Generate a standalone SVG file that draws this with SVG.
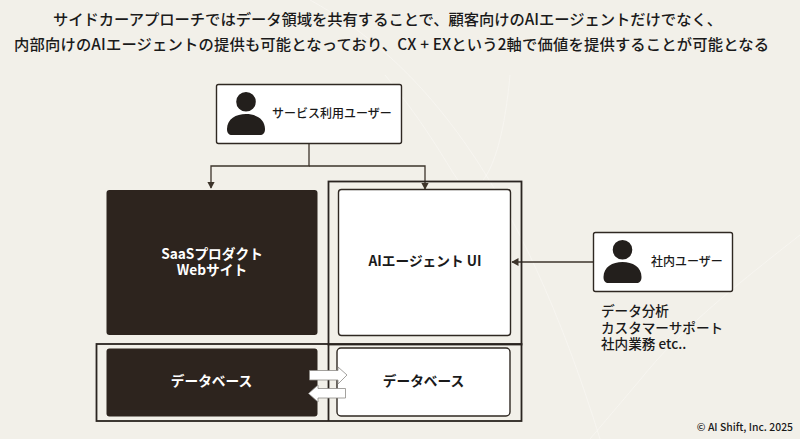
<svg xmlns="http://www.w3.org/2000/svg" width="800" height="439" viewBox="0 0 800 439">
<style>
text{font-family:"Noto Sans CJK JP","Noto Sans",sans-serif;fill:#1a1a1a;font-weight:500}
.t{font-size:15.300px}
.c{text-anchor:middle;font-size:13.700px;font-weight:700}
.s{font-size:12px;text-anchor:middle}
.w{fill:#fff}
.card{fill:#fff;stroke:#2f2822;stroke-width:1.400}
.dark{fill:#2d241e}
.frame{fill:none;stroke:#2a2420;stroke-width:1.800}
.conn{fill:none;stroke:#3d342b;stroke-width:1.300}
.fat{fill:#fff;stroke:#8d8a86;stroke-width:.8}
.bgl{fill:none;stroke:#faf9f5;stroke-width:1}
</style>
<defs>
<marker id="a" markerWidth="6" markerHeight="6" refX="5" refY="3" orient="auto"><path d="M0 0L5.500 3L0 6z" fill="#3d342b"/></marker>
<path id="p" d="M0-16a9.800 9.800 0 1 1 0 19.600a9.800 9.800 0 1 1 0-19.600zM-19 21C-19 11-10 6 0 6S19 11 19 21C19 25 17 27 14 27H-14C-17 27-19 25-19 21z" fill="#231f1c"/>
</defs>
<rect width="800" height="439" fill="#f2f0e9"/>
<path class="bgl" d="M385 75C430 130 450 170 458 180M510 75C505 130 495 165 483 180M800 235C730 290 680 330 640 380L590 439M310 0C420 60 520 180 600 439" opacity=".6"/>
<text class="t" x="53" y="24.500" textLength="669" lengthAdjust="spacing">サイドカーアプローチではデータ領域を共有することで、顧客向けのAIエージェントだけでなく、</text>
<text class="t" x="14" y="50" textLength="755" lengthAdjust="spacing">内部向けのAIエージェントの提供も可能となっており、CX + EXという2軸で価値を提供することが可能となる</text>
<g id="connectors">
<path class="conn" d="M309 144V166H211V188" marker-end="url(#a)"/>
<path class="conn" d="M309 166H425V189" marker-end="url(#a)"/>
<path class="conn" d="M593 262H512" marker-end="url(#a)"/>
</g>
<g id="frames">
<rect class="frame" x="328.500" y="181.500" width="193" height="163"/>
<rect class="frame" x="96.500" y="344" width="425" height="77"/>
<path class="frame" d="M328.500 344V421"/>
</g>
<g id="user"><rect class="card" x="216.500" y="84.500" width="185" height="59" rx="2"/><use href="#p" transform="translate(246 108)"/><text class="s" x="332" y="118">サービス利用ユーザー</text></g>
<g id="saas"><rect class="dark" x="106.500" y="190" width="211" height="145" rx="3"/><text class="c w" x="212" y="259">SaaSプロダクト</text><text class="c w" x="212" y="275">Webサイト</text></g>
<g id="agent"><rect class="card" x="338.500" y="189.500" width="172" height="146" rx="3"/><text class="c" x="425" y="266">AIエージェント UI</text></g>
<g id="internal"><rect class="card" x="593.500" y="232.500" width="139" height="59" rx="2"/><use href="#p" transform="translate(622.500 256)"/><text class="s" x="687" y="266">社内ユーザー</text></g>
<g id="note"><text x="601" y="316" font-size="13.600">データ分析</text><text x="601" y="333" font-size="13.600">カスタマーサポート</text><text x="601" y="349" font-size="13.600">社内業務 etc..</text></g>
<g id="db1"><rect class="dark" x="106.500" y="348.500" width="211" height="68" rx="3"/><text class="c w" x="211.500" y="386">データベース</text></g>
<g id="db2"><rect class="card" x="337" y="348" width="173" height="68" rx="4"/><text class="c" x="423.500" y="386">データベース</text></g>
<g id="exchange">
<path class="fat" d="M309.500 370.500H338V367L347 375L338 384V380H309.500z"/>
<path class="fat" d="M345.500 388.500H318V385L308.500 393.500L318 402V398H345.500z"/>
</g>
<text x="793" y="431" font-size="10.400" text-anchor="end">© AI Shift, Inc. 2025</text>
</svg>
